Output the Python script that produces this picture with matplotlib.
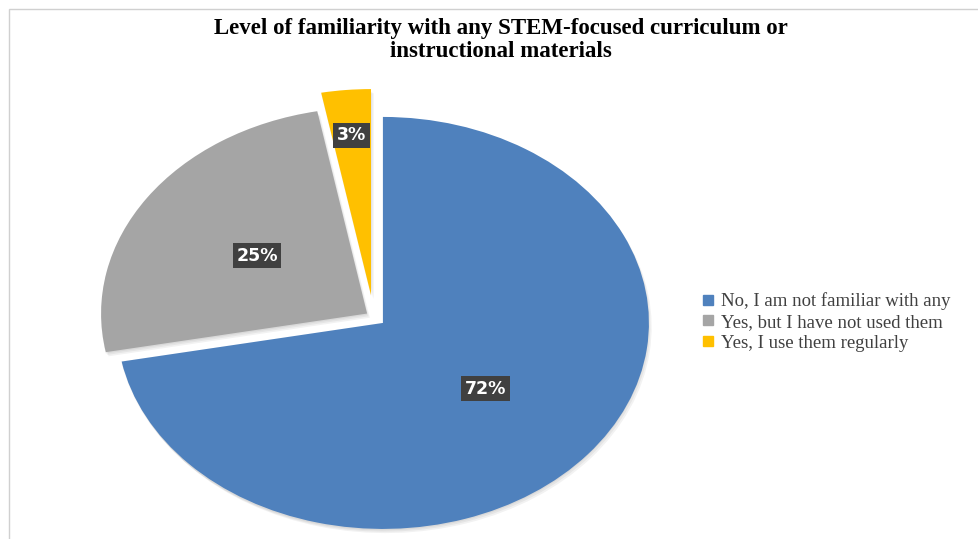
import numpy as np
import matplotlib.pyplot as plt
import matplotlib.patheffects as pe
from matplotlib.lines import Line2D
from matplotlib.patches import Rectangle

# Data
labels = ['No, I am not familiar with any',
          'Yes, but I have not used them',
          'Yes, I use them regularly']
values = [72, 25, 3]

# Style
colors = ['#4F81BD', '#A5A5A5', '#FFC000']
explode = [0.045, 0.03, 0.107]
pct_dist = [0.5, 0.5, 0.78]

W, H = 979, 539
fig = plt.figure(figsize=(W / 100, H / 100), dpi=100)

# chart border (only top and left are visible in the crop)
fig.add_artist(Rectangle((9 / W, -0.1), 1.2, (H - 9) / H + 0.1,
                         transform=fig.transFigure, fill=False,
                         ec='#D0D0D0', lw=1))

# axes placed so the pie is an ellipse of 266 x 206 px radius
cx, cy, rx, ry = 383, H - 323, 266, 206
lim = 1.3
ax = fig.add_axes([(cx - lim * rx) / W, (cy - lim * ry) / H,
                   2 * lim * rx / W, 2 * lim * ry / H])

shadow = [pe.SimplePatchShadow(offset=(0, -1), shadow_rgbFace='k', alpha=0.05),
          pe.SimplePatchShadow(offset=(1, -2), shadow_rgbFace='k', alpha=0.05),
          pe.SimplePatchShadow(offset=(2, -3), shadow_rgbFace='k', alpha=0.05),
          pe.Normal()]

wedges, texts, autotexts = ax.pie(values, colors=colors, explode=explode,
                                  center=(-0.035, 0.029),
                                  startangle=90, counterclock=False,
                                  autopct='%1.0f%%', pctdistance=0.5,
                                  wedgeprops=dict(linewidth=0, path_effects=shadow))
ax.set_aspect('auto')
ax.set_xlim(-lim, lim)
ax.set_ylim(-lim, lim)

for w, t, d in zip(wedges, autotexts, pct_dist):
    theta = np.deg2rad((w.theta1 + w.theta2) / 2)
    x0, y0 = w.center
    t.set_position((x0 + d * np.cos(theta), y0 + d * np.sin(theta)))
    t.set_color('white')
    t.set_fontweight('bold')
    t.set_fontsize(12.5)
    t.set_bbox(dict(boxstyle='square,pad=0.2', fc='#404040', ec='none'))

# title
fig.text(501 / W, (H - 40) / H,
         'Level of familiarity with any STEM-focused curriculum or\ninstructional materials',
         ha='center', va='center', family='Liberation Serif', weight='bold',
         size=16.5, linespacing=1.1)

# legend
handles = [Line2D([], [], ls='none', marker='s', markersize=7, color=c) for c in colors]
fig.legend(handles, labels, loc='center left',
           bbox_to_anchor=(686 / W, (H - 322) / H), frameon=False,
           prop=dict(family='Liberation Serif', size=13.5),
           handlelength=0.6, handletextpad=0.35, labelspacing=0.2,
           labelcolor='#404040')

fig.savefig('out.png', dpi=100)
